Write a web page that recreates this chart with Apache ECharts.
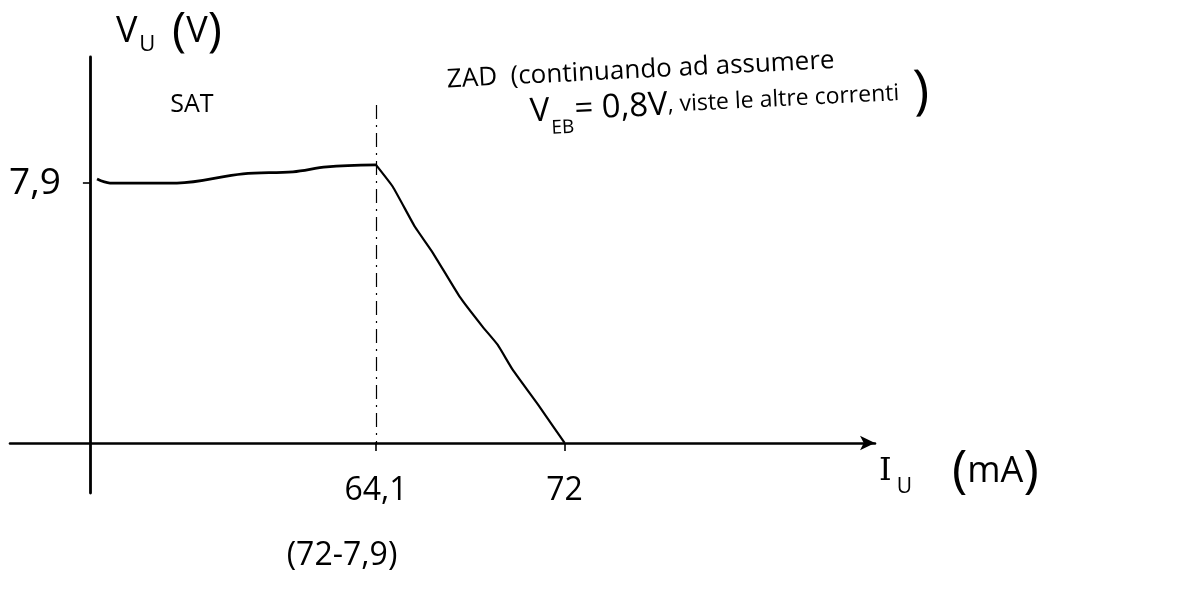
<!DOCTYPE html>
<html>
<head>
<meta charset="utf-8">
<title>Caratteristica V_U – I_U</title>
<script src="https://cdn.jsdelivr.net/npm/echarts@6/dist/echarts.min.js"></script>
<style>
  html, body { margin: 0; padding: 0; background: #fff; }
  #chart { width: 1185px; height: 589px; }
</style>
</head>
<body>
<div id="chart"></div>
<script>
// Saturation branch (SAT): output voltage vs. output current, mA / V
const SAT_I = [1.6, 4.5, 19.5, 34.3, 45.5, 53.1, 64.1];
const SAT_V = [8.02, 7.9, 7.9, 8.18, 8.24, 8.39, 8.45];
// Active-region branch (ZAD): voltage falls to zero at 72 mA
const ZAD_I = [64.1, 64.81, 65.73, 66.48, 67.61, 68.57, 69.2, 69.83, 70.96, 72];
const ZAD_V = [8.45, 7.78, 6.57, 5.78, 4.44, 3.53, 2.98, 2.22, 1.09, 0];
// Marked values on the axes
const X_TICKS = [64.1, 72];
const Y_TICKS = [7.9];
// Dash-dot guide at the knee current
const KNEE_I = 64.1;
const KNEE_GUIDE_TOP = 10.27;

const FONT = "'Open Sans', 'DejaVu Sans', sans-serif";
const INK = '#000';
const comma = v => String(v).replace('.', ',');
const pairs = (xs, ys) => xs.map((x, i) => [x, ys[i]]);

// Axis ranges. The I axis is sketched in two linear stretches:
// 0 → 64,1 (left panel) and 64,1 → end (right panel).
const I_MIN = -17.9, I_KNEE = 64.1, I_MAX = 85;
const V_MIN = -1.52, V_MAX = 11.73;

// Layout of the two panels
const TOP = 57, BOTTOM = 96, LEFT = 10, KNEE_PX = 376, RIGHT = 310;
const W = 1185, H = 589;
const plotH = H - TOP - BOTTOM;
const leftW = KNEE_PX - LEFT;
// Pixel shift that brings each axis line onto the other quantity's zero
const xAxisShift = -plotH * (0 - V_MIN) / (V_MAX - V_MIN);
const yAxisShift = -leftW * (0 - I_MIN) / (I_KNEE - I_MIN);

const chart = echarts.init(document.getElementById('chart'), null, { renderer: 'canvas' });

chart.setOption({
  animation: false,
  backgroundColor: '#fff',
  grid: [
    { left: LEFT, right: W - KNEE_PX, top: TOP, bottom: BOTTOM, containLabel: false, outerBoundsMode: 'none' },
    { left: KNEE_PX, right: RIGHT, top: TOP, bottom: BOTTOM, containLabel: false, outerBoundsMode: 'none' }
  ],
  xAxis: [
    {
      type: 'value', gridIndex: 0, min: I_MIN, max: I_KNEE,
      position: 'bottom', offset: xAxisShift,
      axisLine: { show: true, onZero: false, lineStyle: { color: INK, width: 2.6 } },
      axisTick: { show: false }, axisLabel: { show: false }, splitLine: { show: false }
    },
    {
      type: 'value', gridIndex: 1, min: I_KNEE, max: I_MAX,
      position: 'bottom', offset: xAxisShift,
      axisLine: {
        show: true, onZero: false,
        symbol: ['none', 'arrow'], symbolSize: [11, 15],
        lineStyle: { color: INK, width: 2.6 }
      },
      axisTick: { show: true, customValues: X_TICKS, length: 8, lineStyle: { color: INK, width: 1.6 } },
      axisLabel: {
        show: true, customValues: X_TICKS, margin: 32,
        color: INK, fontFamily: FONT, fontSize: 32,
        showMinLabel: true, showMaxLabel: true, hideOverlap: false,
        formatter: v => comma(v)
      },
      splitLine: { show: false },
      name: '{i|I}{s|U}{g|      }{p|(}{t|mA}{p|)}',
      nameLocation: 'end', nameGap: 4,
      nameTextStyle: {
        align: 'left', verticalAlign: 'top', padding: [3, 0, 0, 0],
        rich: {
          i: { fontFamily: "'DejaVu Serif', serif", fontSize: 32, color: INK },
          s: { fontFamily: FONT, fontSize: 21, color: INK, verticalAlign: 'bottom', padding: [14, 0, 0, 5] },
          g: { fontSize: 24 },
          t: { fontFamily: FONT, fontSize: 36, color: INK },
          p: { fontFamily: FONT, fontSize: 52, color: INK }
        }
      }
    }
  ],
  yAxis: [
    {
      type: 'value', gridIndex: 0, min: V_MIN, max: V_MAX,
      position: 'left', offset: yAxisShift,
      axisLine: { show: true, onZero: false, lineStyle: { color: INK, width: 2.8 } },
      axisTick: { show: true, customValues: Y_TICKS, length: 7, lineStyle: { color: INK, width: 1.6 } },
      axisLabel: {
        show: true, customValues: Y_TICKS, margin: 29,
        color: INK, fontFamily: FONT, fontSize: 37,
        showMinLabel: true, showMaxLabel: true, hideOverlap: false,
        formatter: v => comma(v)
      },
      splitLine: { show: false },
      name: '{v|V}{s|U}{g|   }{p|(}{v|V}{p|)}',
      nameLocation: 'end', nameGap: 1,
      nameTextStyle: {
        align: 'left', padding: [0, 0, 0, 26],
        rich: {
          v: { fontFamily: FONT, fontSize: 36, color: INK },
          s: { fontFamily: FONT, fontSize: 22, color: INK, verticalAlign: 'bottom', padding: [12, 0, 0, 2] },
          g: { fontSize: 20 },
          p: { fontFamily: FONT, fontSize: 48, color: INK }
        }
      }
    },
    {
      type: 'value', gridIndex: 1, min: V_MIN, max: V_MAX, show: false,
      splitLine: { show: false }
    }
  ],
  series: [
    {
      type: 'line', xAxisIndex: 0, yAxisIndex: 0,
      data: pairs(SAT_I, SAT_V),
      smooth: 0.35, symbol: 'none',
      lineStyle: { color: INK, width: 2.8 }
    },
    {
      type: 'line', xAxisIndex: 1, yAxisIndex: 1,
      data: pairs(ZAD_I, ZAD_V),
      smooth: 0.12, symbol: 'none',
      lineStyle: { color: INK, width: 2.2 },
      markLine: {
        silent: true, symbol: 'none', label: { show: false },
        lineStyle: { color: INK, width: 1.2, type: [14, 6, 2, 6] },
        data: [[{ coord: [KNEE_I, KNEE_GUIDE_TOP] }, { coord: [KNEE_I, 0] }]]
      }
    }
  ],
  graphic: [
    {
      type: 'text', x: 192, y: 105,
      style: { text: 'SAT', fill: INK, font: `25px ${FONT}`, textAlign: 'center', textVerticalAlign: 'middle' }
    },
    {
      type: 'text', x: 447, y: 80, rotation: 0.05,
      style: {
        text: 'ZAD  (continuando ad assumere', fill: INK,
        font: `26px ${FONT}`, textAlign: 'left', textVerticalAlign: 'middle'
      }
    },
    {
      type: 'text', x: 530, y: 112, rotation: 0.05,
      style: {
        text: '{V|V}{s|EB}{V|= 0,8V}{b|, viste le altre correnti}{p| )}',
        textAlign: 'left', textVerticalAlign: 'middle',
        rich: {
          V: { fontFamily: FONT, fontSize: 33, fill: INK },
          s: { fontFamily: FONT, fontSize: 19, fill: INK, verticalAlign: 'bottom', padding: [12, 1, 0, 1] },
          b: { fontFamily: FONT, fontSize: 23, fill: INK },
          p: { fontFamily: FONT, fontSize: 54, fill: INK }
        }
      }
    },
    {
      type: 'text', x: 342, y: 556,
      style: { text: '(72-7,9)', fill: INK, font: `32px ${FONT}`, textAlign: 'center', textVerticalAlign: 'middle' }
    }
  ]
});
</script>
</body>
</html>
